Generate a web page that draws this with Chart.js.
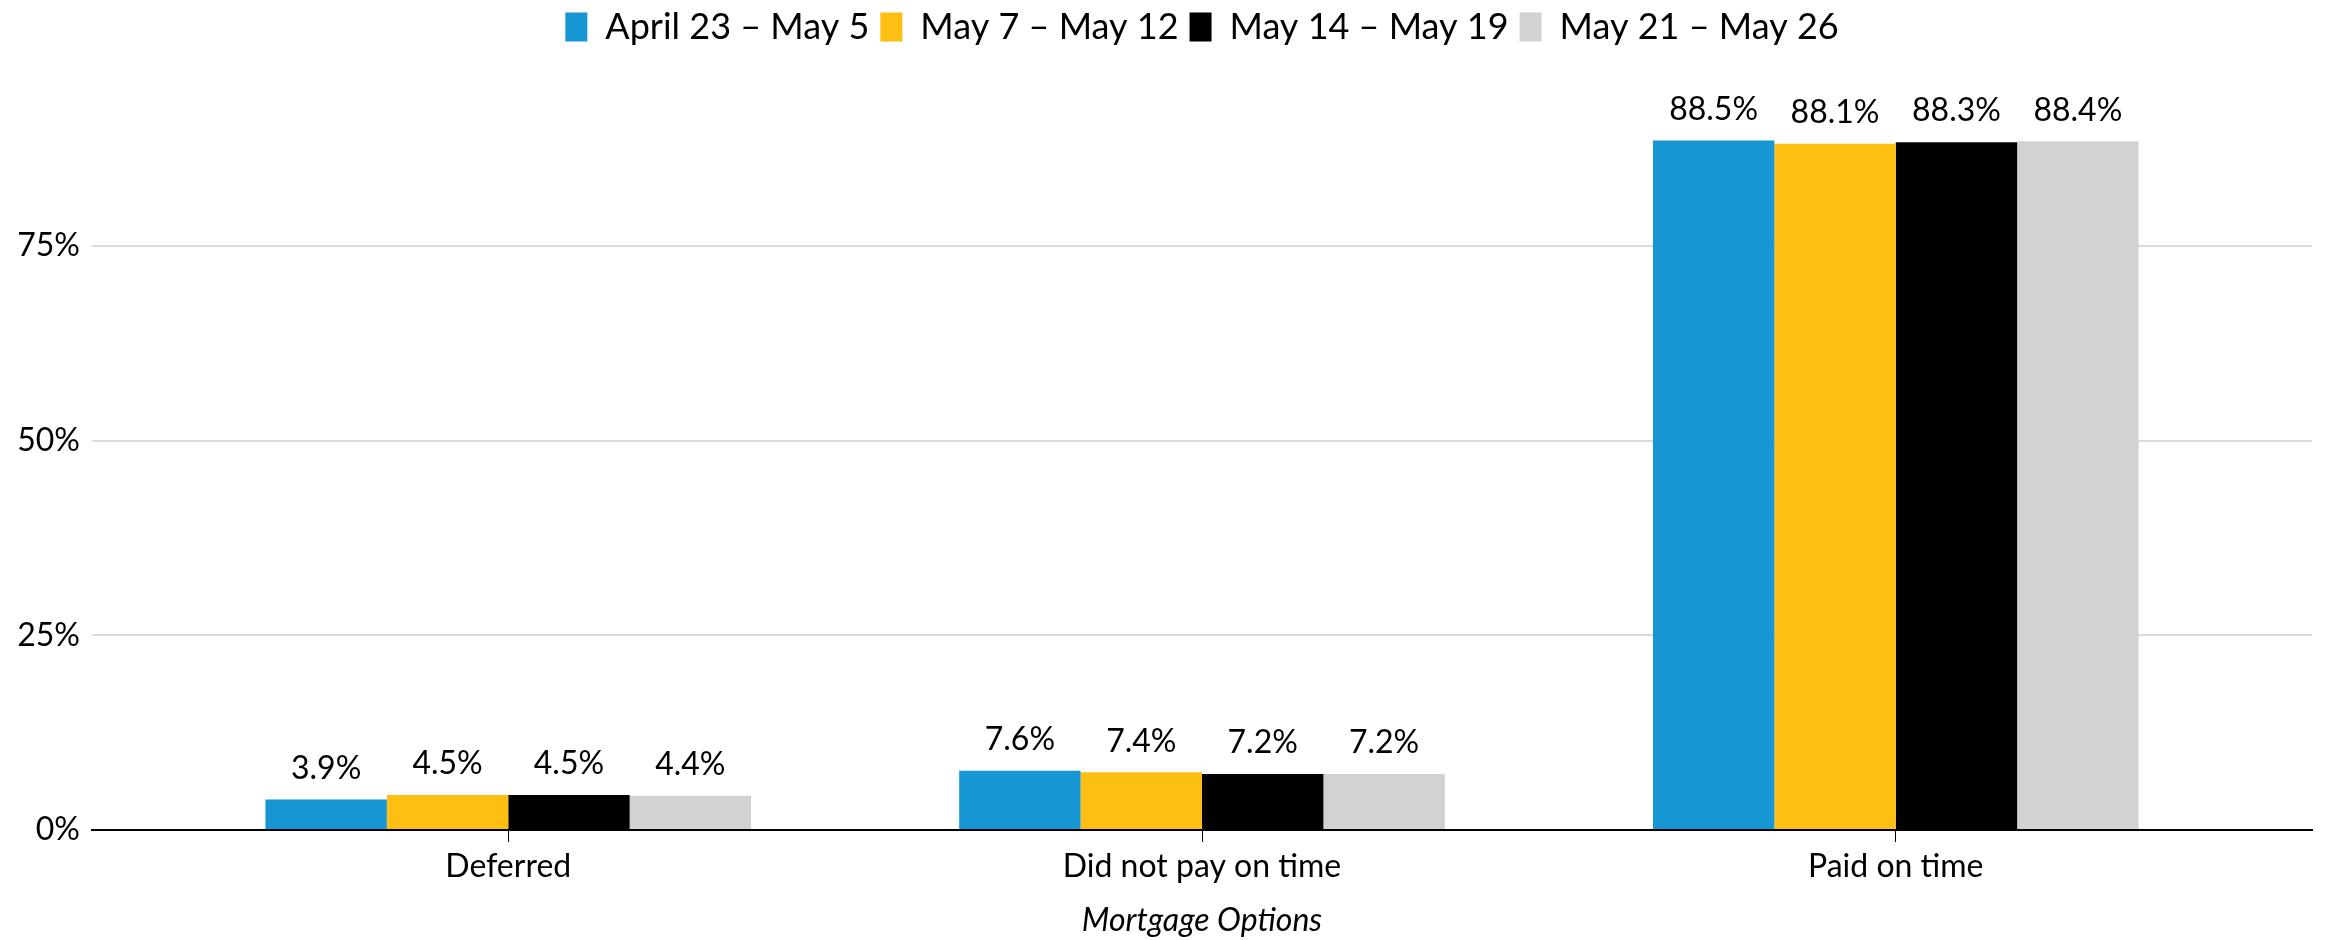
<!DOCTYPE html>
<html>
<head>
<meta charset="utf-8">
<title>Mortgage Options</title>
<script src="https://cdn.jsdelivr.net/npm/chart.js@4.4.1/dist/chart.umd.min.js"></script>
<style>
    html, body { margin: 0; padding: 0; background: #fff; }
    #wrap { width: 2325px; height: 940px; }
</style>
</head>
<body>
<div id="wrap"><canvas id="mortgageChart" width="2325" height="940"></canvas></div>
<script>
// categories on the x axis
var categories = ["Deferred", "Did not pay on time", "Paid on time"];

// survey periods (one series each)
var periods = ["April 23 \u2013 May 5", "May 7 \u2013 May 12", "May 14 \u2013 May 19", "May 21 \u2013 May 26"];

// share of respondents, percent
var apr23May5 = [3.9, 7.6, 88.5];
var may7May12 = [4.5, 7.4, 88.1];
var may14May19 = [4.5, 7.2, 88.3];
var may21May26 = [4.4, 7.2, 88.4];

var yTicks = [0, 25, 50, 75];
var periodColors = ["#1696d2", "#fdbf11", "#000000", "#d2d2d2"];

var seriesValues = [apr23May5, may7May12, may14May19, may21May26];

function toPoints(values) {
    return values.map(function (v, i) { return { x: i, y: v }; });
}

// writes the value above every bar
var barValueLabels = {
    id: "barValueLabels",
    afterDatasetsDraw: function (chart) {
        var ctx = chart.ctx;
        ctx.save();
        ctx.font = "32px Lato";
        ctx.fillStyle = "#000";
        ctx.textAlign = "center";
        ctx.textBaseline = "middle";
        chart.data.datasets.forEach(function (ds, i) {
            chart.getDatasetMeta(i).data.forEach(function (bar, j) {
                ctx.fillText(ds.data[j].y.toFixed(1) + "%", bar.x, bar.y - 31);
            });
        });
        ctx.restore();
    }
};

function buildChart() {
    Chart.defaults.font.family = "Lato";
    Chart.defaults.color = "#000";

    var datasets = [];
    for (var i = 0; i < periods.length; i++) {
        datasets.push({
            label: periods[i],
            data: toPoints(seriesValues[i]),
            backgroundColor: periodColors[i],
            borderWidth: 0,
            barPercentage: 1,
            categoryPercentage: 0.7
        });
    }

    new Chart(document.getElementById("mortgageChart"), {
        type: "bar",
        data: { datasets: datasets },
        plugins: [barValueLabels],
        options: {
            responsive: false,
            animation: false,
            devicePixelRatio: 1,
            layout: { padding: { top: -2, right: 13, left: 0, bottom: 0 } },
            plugins: {
                tooltip: { enabled: false },
                legend: {
                    position: "top",
                    fullSize: false,
                    maxHeight: 53,
                    labels: {
                        boxWidth: 22,
                        boxHeight: 29,
                        padding: 11,
                        color: "#000",
                        font: { size: 36 }
                    }
                }
            },
            scales: {
                x: {
                    type: "linear",
                    offset: false,
                    min: -0.6,
                    max: 2.6,
                    afterBuildTicks: function (axis) {
                        axis.ticks = categories.map(function (c, i) { return { value: i }; });
                    },
                    afterFit: function (axis) { axis.height = 110; },
                    ticks: {
                        autoSkip: false,
                        maxRotation: 0,
                        padding: 5,
                        color: "#000",
                        font: { size: 32 },
                        callback: function (v) { return categories[v]; }
                    },
                    grid: {
                        offset: false,
                        drawOnChartArea: false,
                        tickLength: 12,
                        tickColor: "#000",
                        lineWidth: 1
                    },
                    border: { display: true, color: "#000", width: 2 },
                    title: {
                        display: true,
                        text: "Mortgage Options",
                        color: "#000",
                        font: { size: 32, style: "italic" },
                        padding: { top: 4, bottom: 0 }
                    }
                },
                y: {
                    min: 0,
                    max: 100,
                    afterBuildTicks: function (axis) {
                        axis.ticks = yTicks.map(function (v) { return { value: v }; });
                    },
                    afterFit: function (axis) { axis.width = 92; },
                    ticks: {
                        padding: 12,
                        color: "#000",
                        font: { size: 32 },
                        callback: function (v) { return v + "%"; }
                    },
                    grid: { color: "#dcdcdc", lineWidth: 2, drawTicks: false },
                    border: { display: false }
                }
            }
        }
    });
}

Promise.all([
    document.fonts.load("32px Lato"),
    document.fonts.load("italic 32px Lato")
]).then(buildChart, buildChart);
</script>
</body>
</html>
